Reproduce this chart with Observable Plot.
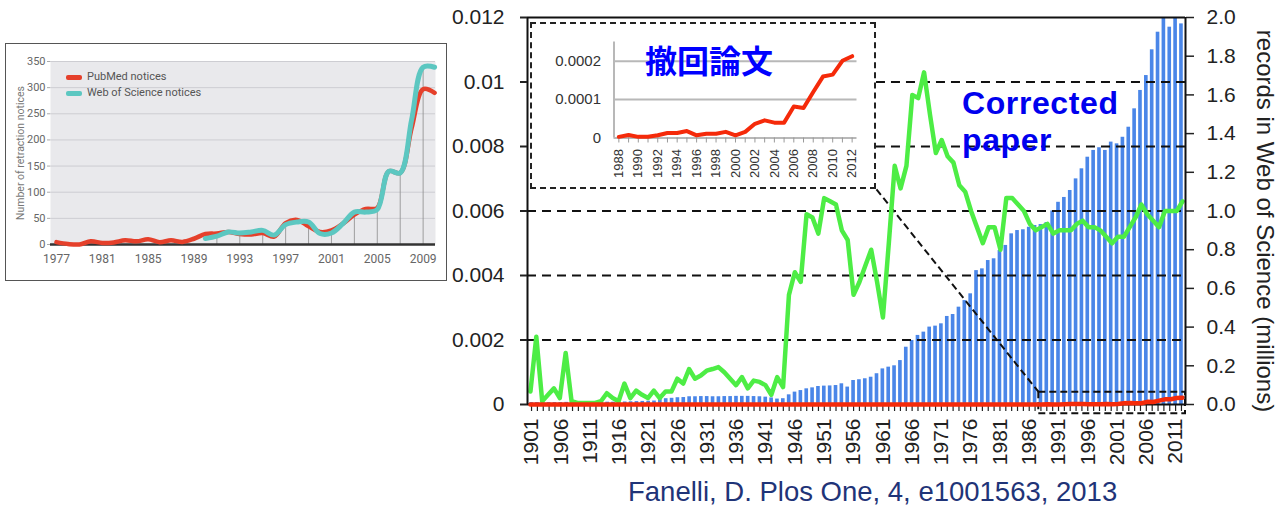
<!DOCTYPE html>
<html><head><meta charset="utf-8">
<script src="https://cdn.jsdelivr.net/npm/d3@7"></script>
<script src="https://cdn.jsdelivr.net/npm/@observablehq/plot@0.6"></script>
<style>
body{margin:0;background:#fff;}
#root{position:relative;width:1285px;height:507px;overflow:hidden;font-family:"Liberation Sans",Arial,sans-serif;background:#fff;}
.abs{position:absolute;}
</style></head><body><div id="root"></div>
<script>
// ---------- main chart data (1901-2012) ----------
const years = d3.range(1901, 2013);
// ratio of corrected papers (left axis)
const correctedRate = [
 0.0004,0.0021,0.0001,0.0003,0.0005,0.0002,0.0016,0.0001,0.00005,0.00005,
 0.00005,0.00005,0.0001,0.00035,0.0002,0.0001,0.00065,0.0002,0.00043,0.0003,
 0.0002,0.00043,0.0002,0.0004,0.0004,0.0008,0.00065,0.0011,0.0008,0.0009,
 0.00105,0.0011,0.00116,0.001,0.0008,0.0006,0.00085,0.0005,0.00074,0.0007,
 0.0006,0.0003,0.00085,0.00054,0.0034,0.0041,0.0038,0.0059,0.0058,0.0053,
 0.0064,0.0063,0.0062,0.0054,0.0051,0.0034,0.0038,0.0043,0.0048,0.0038,
 0.0027,0.005,0.0074,0.0067,0.0074,0.0096,0.0095,0.0103,0.009,0.0078,
 0.0082,0.0077,0.0075,0.0068,0.0066,0.006,0.0055,0.005,0.0055,0.0055,
 0.0048,0.0064,0.0064,0.0062,0.006,0.0056,0.0054,0.0055,0.0056,0.0053,
 0.0054,0.0054,0.0054,0.0056,0.0057,0.0055,0.0055,0.0054,0.0052,0.005,
 0.0052,0.0052,0.0055,0.0058,0.0062,0.0059,0.0057,0.0055,0.006,0.006,
 0.006,0.0063
];
// records in Web of Science, millions (right axis)
const wosRecords = [
 0.01,0.01,0.01,0.01,0.01,0.01,0.011,0.011,0.012,0.012,
 0.012,0.013,0.013,0.012,0.012,0.012,0.013,0.014,0.015,0.016,
 0.017,0.018,0.03,0.03,0.032,0.035,0.036,0.04,0.04,0.041,
 0.041,0.04,0.04,0.041,0.041,0.042,0.042,0.042,0.041,0.04,
 0.038,0.034,0.028,0.03,0.05,0.064,0.072,0.081,0.086,0.093,
 0.095,0.096,0.098,0.107,0.09,0.124,0.128,0.133,0.141,0.159,
 0.184,0.193,0.2,0.227,0.296,0.331,0.357,0.374,0.4,0.405,
 0.417,0.455,0.465,0.503,0.537,0.572,0.692,0.701,0.744,0.753,
 0.796,0.822,0.882,0.899,0.903,0.916,0.925,0.93,0.94,1.0,
 1.045,1.07,1.106,1.166,1.218,1.278,1.313,1.327,1.313,1.356,
 1.347,1.381,1.433,1.528,1.623,1.7,1.833,1.924,2.05,1.95,
 2.05,1.967
];
// retracted-paper ratio (inset and red line), 1988-2012
const insetYears = d3.range(1988, 2013);
const retractionRate = [
 0.000003,0.000008,0.000003,0.000003,0.000007,0.000013,0.000013,0.000018,0.000007,0.000011,
 0.000011,0.000016,0.000007,0.000016,0.000037,0.000046,0.00004,0.00004,0.000082,0.000078,
 0.00012,0.00016,0.000165,0.000201,0.000213
];
const leftTicks = [0, 0.002, 0.004, 0.006, 0.008, 0.01, 0.012];
const rightTicks = [0, 0.2, 0.4, 0.6, 0.8, 1.0, 1.2, 1.4, 1.6, 1.8, 2.0];
const xLabelYears = [1901,1906,1911,1916,1921,1926,1931,1936,1941,1946,1951,1956,1961,1966,1971,1976,1981,1986,1991,1996,2001,2006,2011];
const insetTicks = [0, 0.0001, 0.0002];
const insetLabelYears = [1988,1990,1992,1994,1996,1998,2000,2002,2004,2006,2008,2010,2012];
const rightTitle = "records in Web of Science (millions)";

// ---------- thumbnail (retraction notices) data ----------
const noticeYears = d3.range(1977, 2011);
const pubmedNotices = [4.5,1,0,6,3,4,8,6,10,4.5,8,5,11,20,21,24,20,19,22,15,41,47,35,24,27,40,57,68,70,140,137,223,297,290];
const wosNoticeYears = d3.range(1990, 2011);
const wosNotices = [11.5,16,24,22,24,27,18,38,43,43,21,22,40,62,62,67,140,137,239,339,339];
const noticeXTicks = [1977,1981,1985,1989,1993,1997,2001,2005,2009];
const noticeYTicks = [0,50,100,150,200,250,300,350];
const dropYears = [1991,1993,1995,1997,1999,2001,2003,2005,2007,2009];

// ---------- annotation geometry (data units) ----------
const insetBox = {x1: 1901.01, x2: 1959.9, y1: 0.00667, y2: 0.01185};
const zoomBox = {x1: 1987.53, x2: 2012.5, y1: -0.00029, y2: 0.00038};

const FONT = '"Liberation Sans", Arial, sans-serif';
const W = 1285, H = 475, mL = 527, mR = 100, mT = 17, mB = 71;
const root = document.getElementById("root");

const bars = years.map((y, i) => ({year: y, v: wosRecords[i]}));
const green = years.map((y, i) => ({year: y, v: correctedRate[i]}));
const retractMap = new Map(insetYears.map((y, i) => [y, retractionRate[i]]));
const red = years.map(y => ({year: y, v: retractMap.get(y) ?? 0}));
const inset = insetYears.map((y, i) => ({year: y, v: retractionRate[i]}));

// Plot A: bars + right axis + x axis
const plotA = Plot.plot({
  width: W, height: H, marginLeft: mL, marginRight: mR, marginTop: mT, marginBottom: mB,
  style: {background: "transparent", fontFamily: FONT, color: "#222", overflow: "visible"},
  x: {type: "band", domain: years, padding: 0.38},
  y: {domain: [0, 2]},
  marks: [
    Plot.barY(bars, {x: "year", y: "v", fill: "#4a86e8", clip: true}),
    Plot.axisY({anchor: "right", ticks: rightTicks, tickFormat: d3.format(".1f"), tickSize: 8, tickPadding: 13, fontSize: 21, label: null, strokeWidth: 1.5}),
    Plot.axisX({ticks: years, tickSize: 7, tickFormat: () => "", label: null, strokeWidth: 1.2}),
    Plot.axisX({ticks: xLabelYears, tickSize: 0, tickPadding: 14, tickRotate: -90, fontSize: 21, label: null, tickFormat: d => String(d)}),
    Plot.text([rightTitle], {frameAnchor: "right", textAnchor: "middle", dx: 79, dy: 10, rotate: 90, fontSize: 24, fill: "#222"})
  ]
});
plotA.style.position = "absolute"; plotA.style.left = "0px"; plotA.style.top = "0px";
root.appendChild(plotA);

// Plot B: lines + left axis + gridlines
const dash = {stroke: "#111", strokeWidth: 2, strokeDasharray: "9,6"};
const plotB = Plot.plot({
  width: W, height: H, marginLeft: mL, marginRight: mR, marginTop: mT, marginBottom: mB,
  style: {background: "transparent", fontFamily: FONT, color: "#222", overflow: "visible"},
  x: {domain: [1900.5, 2012.5], axis: null},
  y: {domain: [0, 0.012]},
  marks: [
    Plot.ruleY([0.002, 0.004, 0.006], dash),
    Plot.ruleY([0.008, 0.01], {...dash, x1: insetBox.x2, x2: 2012.5}),
    Plot.ruleY([0], {stroke: "#111", strokeWidth: 2}),
    Plot.link([0], {x1: insetBox.x2, y1: insetBox.y1, x2: zoomBox.x1, y2: zoomBox.y2, stroke: "#111", strokeWidth: 2, strokeDasharray: "7,4"}),
    Plot.rect([0], {x1: zoomBox.x1, x2: zoomBox.x2, y1: zoomBox.y1, y2: zoomBox.y2, fill: "none", stroke: "#111", strokeWidth: 2, strokeDasharray: "7,4"}),
    Plot.lineY(green, {x: "year", y: "v", stroke: "#4ded45", strokeWidth: 4.5}),
    Plot.lineY(red, {x: "year", y: "v", stroke: "#f52a0a", strokeWidth: 4.5}),
    Plot.ruleY([0.012], {stroke: "#111", strokeWidth: 2}),
    Plot.ruleX([1900.5], {stroke: "#111", strokeWidth: 2}),
    Plot.ruleX([2012.5], {stroke: "#111", strokeWidth: 2}),
    Plot.axisY({ticks: leftTicks, tickFormat: d => String(d), tickSize: 7, tickPadding: 16, fontSize: 21, label: null, strokeWidth: 2})
  ]
});
plotB.style.position = "absolute"; plotB.style.left = "0px"; plotB.style.top = "0px";
root.appendChild(plotB);

// inset box placed via plot B scales
const sx = plotB.scale("x"), sy = plotB.scale("y");
const bx = sx.apply(insetBox.x1), bx2 = sx.apply(insetBox.x2);
const by = sy.apply(insetBox.y2), by2 = sy.apply(insetBox.y1);
const box = document.createElement("div");
box.className = "abs";
Object.assign(box.style, {left: bx + "px", top: by + "px", width: (bx2 - bx) + "px", height: (by2 - by) + "px",
  boxSizing: "border-box", border: "2.5px dashed #222", background: "#fff"});
root.appendChild(box);
const iw = bx2 - bx - 5, ih = by2 - by - 5;

const plotC = Plot.plot({
  width: iw, height: ih, marginLeft: 81.5, marginRight: iw - 81.5 - 243, marginTop: 17.5, marginBottom: ih - 113.5,
  style: {background: "#fff", fontFamily: FONT, color: "#333", overflow: "visible"},
  x: {domain: [1987.5, 2012.5]},
  y: {domain: [0, 0.00025]},
  marks: [
    Plot.ruleY([0.0001, 0.0002], {stroke: "#b8b8b8", strokeWidth: 2}),
    Plot.ruleX([1987.5], {stroke: "#b8b8b8", strokeWidth: 2}),
    Plot.ruleY([0], {stroke: "#b8b8b8", strokeWidth: 2}),
    Plot.axisX({ticks: insetYears, tickSize: 5, tickFormat: () => "", label: null, stroke: "#999"}),
    Plot.axisX({ticks: insetLabelYears, tickSize: 0, tickPadding: 11, tickRotate: -90, fontSize: 13, label: null, tickFormat: d => String(d)}),
    Plot.axisY({ticks: insetTicks, tickFormat: d => String(d), tickSize: 0, tickPadding: 13, fontSize: 15, label: null}),
    Plot.lineY(inset, {x: "year", y: "v", stroke: "#f52a0a", strokeWidth: 4})
  ]
});
plotC.style.position = "absolute"; plotC.style.left = "0px"; plotC.style.top = "0px";
box.appendChild(plotC);

// Plot D: thumbnail of retraction notices
const thumb = document.createElement("div");
thumb.className = "abs";
Object.assign(thumb.style, {left: "5px", top: "43px", width: "442px", height: "238px", boxSizing: "border-box", border: "1.5px solid #555", background: "#fff"});
root.appendChild(thumb);
const pub = noticeYears.map((y, i) => ({year: y, v: pubmedNotices[i]}));
const wosN = wosNoticeYears.map((y, i) => ({year: y, v: wosNotices[i]}));
const wosMap = new Map(wosN.map(d => [d.year, d.v]));
const drops = dropYears.map(y => ({year: y, v: wosMap.get(y)}));
const plotD = Plot.plot({
  width: 439, height: 235, marginLeft: 44, marginRight: 10, marginTop: 17, marginBottom: 35,
  style: {background: "#fff", fontFamily: "Roboto, sans-serif", color: "#666", overflow: "visible"},
  x: {domain: [1976.48, 2010.08]},
  y: {domain: [0, 350]},
  marks: [
    Plot.frame({fill: "#e9e9ec", stroke: null}),
    Plot.ruleY(noticeYTicks.slice(1), {stroke: "#cdcdd2", strokeWidth: 1}),
    Plot.ruleX(drops, {x: "year", y1: 0, y2: "v", stroke: "#8c8c8c", strokeWidth: 0.8}),
    Plot.ruleY([0], {stroke: "#333", strokeWidth: 2.5}),
    Plot.line(pub, {x: "year", y: "v", stroke: "#e5402b", strokeWidth: 4.5, curve: "catmull-rom"}),
    Plot.line(wosN, {x: "year", y: "v", stroke: "#5cc7c1", strokeWidth: 5, curve: "catmull-rom"}),
    Plot.axisX({ticks: noticeXTicks, tickSize: 0, tickPadding: 10, fontSize: 12, label: null, tickFormat: d => String(d)}),
    Plot.axisY({ticks: noticeYTicks, tickSize: 3, tickPadding: 2, fontSize: 11, label: null, stroke: "#aaa"}),
    Plot.text(["Number of retraction notices"], {frameAnchor: "left", textAnchor: "middle", dx: -30, rotate: -90, fontSize: 10.5, fill: "#777"})
  ]
});
plotD.style.position = "absolute"; plotD.style.left = "0px"; plotD.style.top = "0px";
thumb.appendChild(plotD);
// legend
[["PubMed notices", "#e5402b", 33], ["Web of Science notices", "#5cc7c1", 49]].forEach(([t, c, y]) => {
  const sw = document.createElement("div");
  sw.className = "abs";
  Object.assign(sw.style, {left: "60px", top: (y - 2.5) + "px", width: "16px", height: "5px", background: c, borderRadius: "2px"});
  thumb.appendChild(sw);
  const tx = document.createElement("div");
  tx.className = "abs";
  Object.assign(tx.style, {left: "81px", top: (y - 7) + "px", font: "11px Roboto, sans-serif", color: "#555", lineHeight: "14px", whiteSpace: "nowrap"});
  tx.textContent = t;
  thumb.appendChild(tx);
});

// text annotations
function addText(txt, style) {
  const d = document.createElement("div");
  d.className = "abs";
  d.textContent = txt;
  Object.assign(d.style, {whiteSpace: "nowrap"}, style);
  root.appendChild(d);
}
addText("撤回論文", {left: "645px", top: "43px", font: '700 32px "Noto Sans CJK JP", sans-serif', color: "#0000ff", lineHeight: "32px"});
const cFont = '700 32px "Liberation Sans", Arial, sans-serif';
addText("Corrected", {left: "962px", top: "89px", font: cFont, color: "#0000ee", lineHeight: "28px", letterSpacing: "0.6px"});
addText("paper", {left: "962px", top: "126px", font: cFont, color: "#0000ee", lineHeight: "28px", letterSpacing: "0.6px"});
addText("Fanelli, D. Plos One, 4, e1001563, 2013", {left: "628px", top: "478px", font: '27.5px "Liberation Sans", Arial, sans-serif', color: "#1f3478", lineHeight: "27.5px"});
</script>
</body></html>
